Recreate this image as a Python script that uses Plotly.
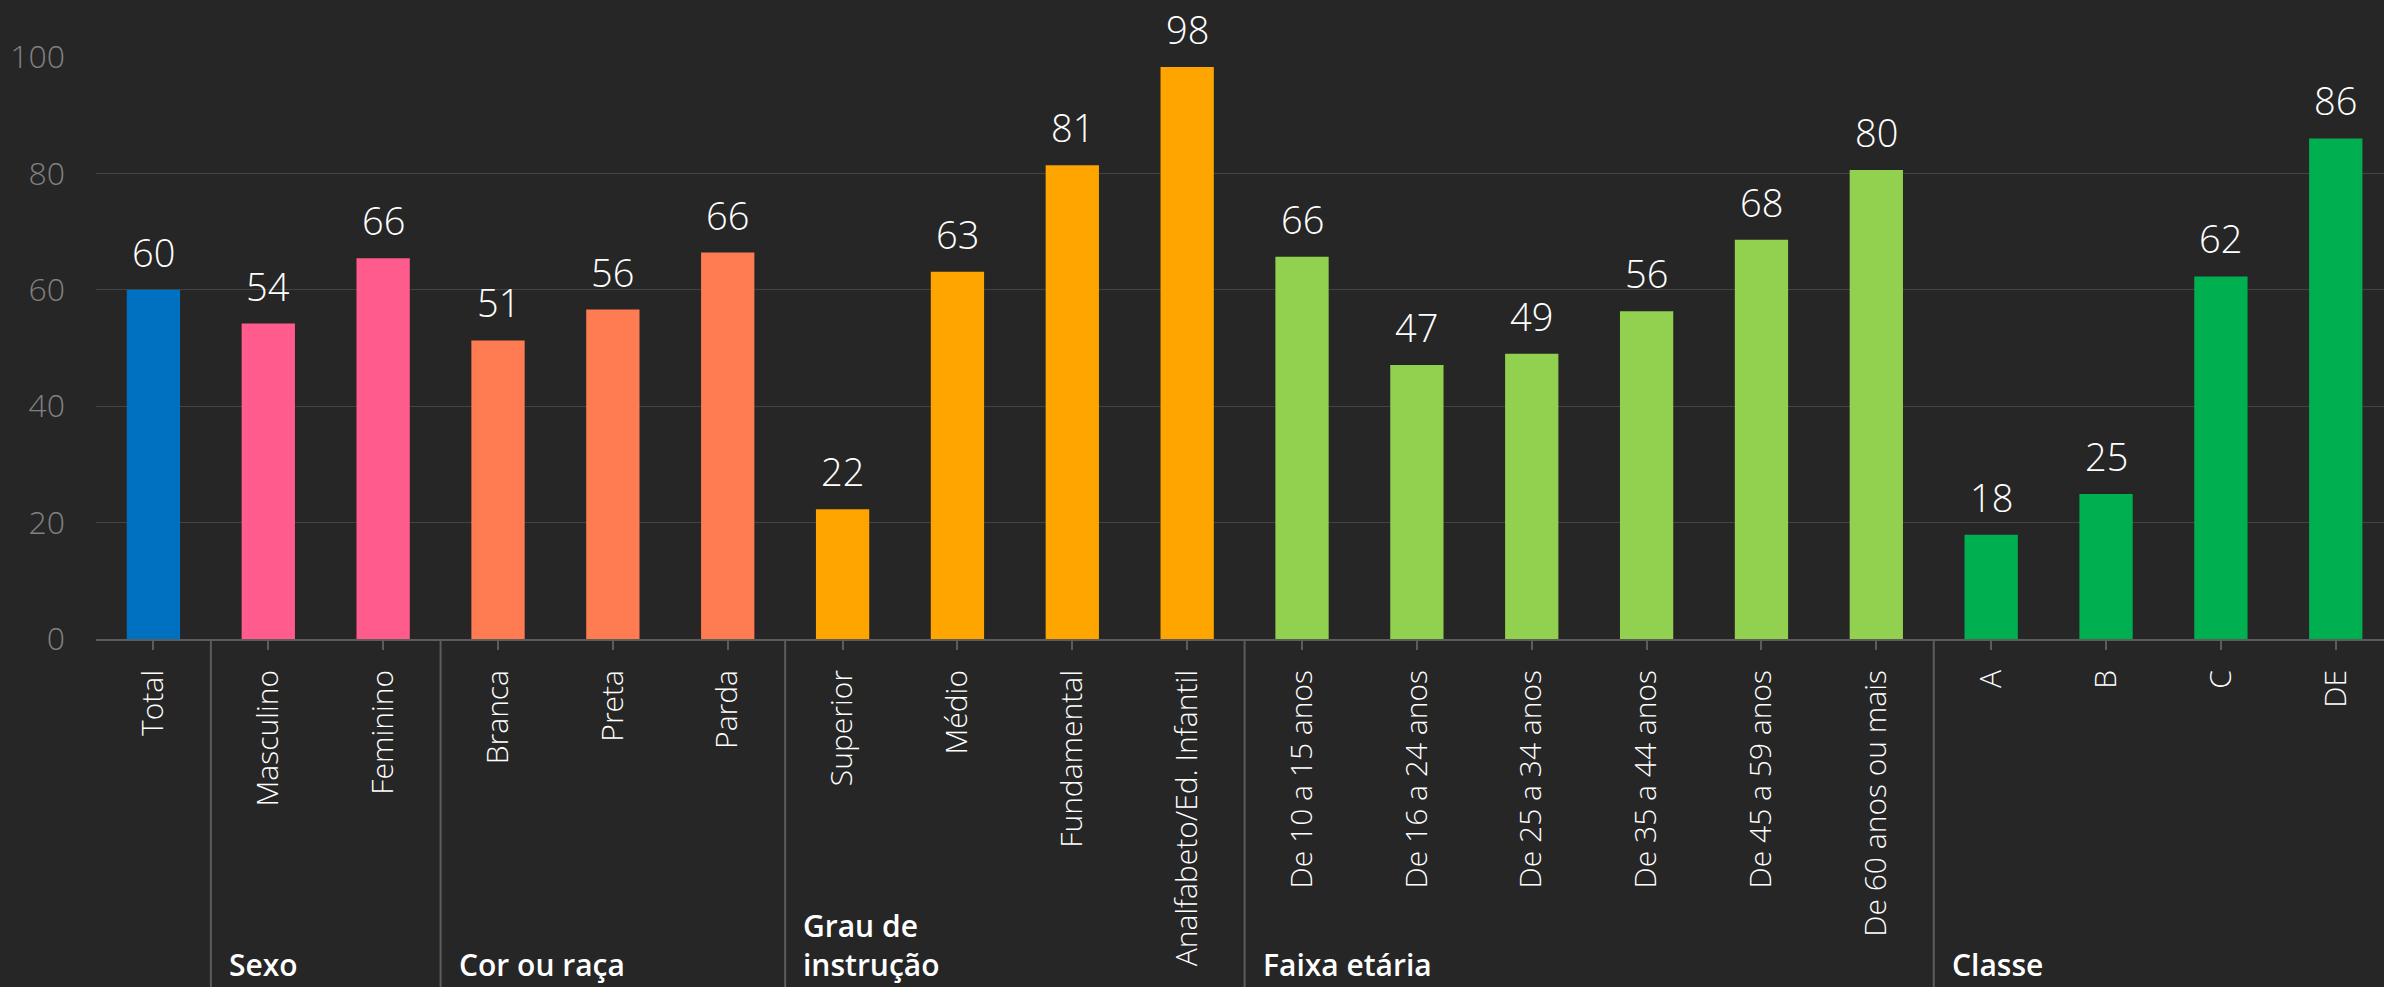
import plotly.graph_objects as go

BACKGROUND = "#262626"
GRID = "#434343"
AXIS = "#5c5c5c"
TEXT = "#ffffff"
MUTED = "#808080"
FONT = "Open Sans"

categories = [
    "Total",
    "Masculino", "Feminino",
    "Branca", "Preta", "Parda",
    "Superior", "Médio", "Fundamental", "Analfabeto/Ed. Infantil",
    "De 10 a 15 anos", "De 16 a 24 anos", "De 25 a 34 anos",
    "De 35 a 44 anos", "De 45 a 59 anos", "De 60 anos ou mais",
    "A", "B", "C", "DE",
]
values = [
    60.0,
    54.2, 65.4,
    51.3, 56.6, 66.4,
    22.3, 63.1, 81.4, 98.3,
    65.7, 47.1, 49.0, 56.3, 68.6, 80.6,
    17.9, 24.9, 62.3, 86.0,
]
labels = [60, 54, 66, 51, 56, 66, 22, 63, 81, 98, 66, 47, 49, 56, 68, 80, 18, 25, 62, 86]

group_names = ["", "Sexo", "Cor ou raça", "Grau de<br>instrução", "Faixa etária", "Classe"]
group_sizes = [1, 2, 3, 4, 6, 4]
group_colors = ["#0070C0", "#FF5B8C", "#FF7B52", "#FFA500", "#92D050", "#00B050"]

y_ticks = [0, 20, 40, 60, 80, 100]

colors = []
for size, color in zip(group_sizes, group_colors):
    colors += [color] * size

x = list(range(len(categories)))

fig = go.Figure()
fig.add_trace(
    go.Bar(
        x=x,
        y=values,
        marker=dict(color=colors, line=dict(width=0)),
        width=0.464,
        hoverinfo="skip",
    )
)

for i, (value, label) in enumerate(zip(values, labels)):
    fig.add_annotation(
        x=i,
        y=value,
        text=str(label),
        showarrow=False,
        yanchor="bottom",
        yshift=10,
        font=dict(family=FONT, size=38, color=TEXT, weight=300),
    )

# group dividers and group titles under the axis
start = 0
for name, size in zip(group_names, group_sizes):
    boundary = start - 0.5
    if start > 0:
        fig.add_shape(
            type="line",
            xref="x",
            yref="paper",
            x0=boundary,
            x1=boundary,
            y0=0,
            y1=-0.6,
            line=dict(color=AXIS, width=2),
        )
    if name:
        fig.add_annotation(
            x=boundary,
            y=-0.598,
            xref="x",
            yref="paper",
            text=name,
            showarrow=False,
            xanchor="left",
            yanchor="bottom",
            align="left",
            xshift=16,
            font=dict(family=FONT, size=30, color=TEXT, weight=600),
        )
    start += size

fig.update_layout(
    width=2384,
    height=987,
    plot_bgcolor=BACKGROUND,
    paper_bgcolor=BACKGROUND,
    showlegend=False,
    margin=dict(l=96, r=0, t=57, b=348),
    xaxis=dict(
        range=[-0.5, 19.42],
        tickmode="array",
        tickvals=x,
        ticktext=categories,
        tickangle=-90,
        tickfont=dict(family=FONT, size=30, color=TEXT, weight=300),
        ticks="outside",
        ticklen=9,
        tickwidth=2,
        tickcolor=AXIS,
        showline=True,
        linecolor=AXIS,
        linewidth=2,
        showgrid=False,
        zeroline=False,
        ticklabelstandoff=8,
    ),
    yaxis=dict(
        range=[0, 100],
        tickmode="array",
        tickvals=y_ticks,
        tickfont=dict(family=FONT, size=32, color=MUTED, weight=300),
        showgrid=True,
        gridcolor=GRID,
        gridwidth=1,
        zeroline=False,
        showline=False,
        ticklabelstandoff=30,
    ),
)

fig.write_html(
    "out.html",
    config={"displayModeBar": False},
    post_script="document.body.style.margin='0';document.body.style.background='" + BACKGROUND + "';",
)
